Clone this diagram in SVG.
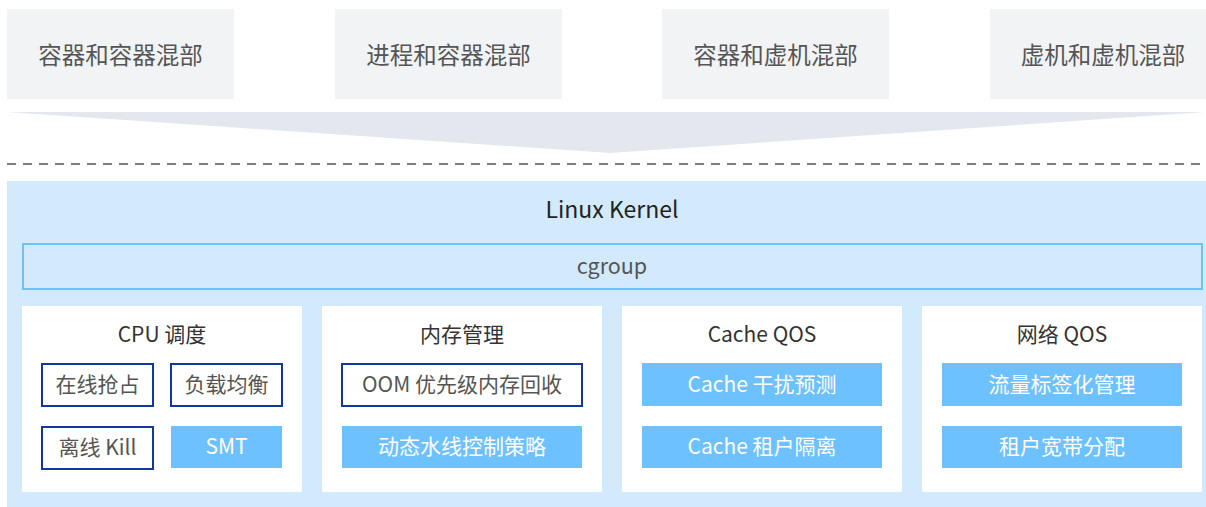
<svg xmlns="http://www.w3.org/2000/svg" width="1206" height="507" viewBox="0 0 1206 507">
<style>
text{font-family:"Noto Sans CJK SC","Noto Sans",sans-serif;text-anchor:middle;dominant-baseline:central}
.top rect{fill:#f2f3f5}
.top text{font-size:23.5px;fill:#555}
.panel{fill:#fff}
.title{font-size:21px;fill:#333}
.ob rect{fill:#fff;stroke:#12399a;stroke-width:2}
.ob text{font-size:21px;fill:#555}
.fb rect{fill:#6ec1ff}
.fb text{font-size:21px;fill:#fff}
</style>
<rect width="1206" height="507" fill="#fff"/>
<g id="top1" class="top"><rect x="7" y="9" width="227" height="90"/><text x="120.5" y="54">容器和容器混部</text></g>
<g id="top2" class="top"><rect x="335" y="9" width="227" height="90"/><text x="448.5" y="54">进程和容器混部</text></g>
<g id="top3" class="top"><rect x="662" y="9" width="227" height="90"/><text x="775.5" y="54">容器和虚机混部</text></g>
<g id="top4" class="top"><rect x="990" y="9" width="227" height="90"/><text x="1103" y="54">虚机和虚机混部</text></g>
<g id="connectors">
<polygon points="7,112 1206,112 610,153" fill="#e4e8ee"/>
<line x1="7" y1="164" x2="1206" y2="164" stroke="#555" stroke-width="1.3" stroke-dasharray="9 7"/>
</g>
<g id="kernel">
<rect x="7" y="181" width="1199" height="326" fill="#d3eafc"/>
<text x="612" y="208" style="font-size:23px;fill:#222">Linux Kernel</text>
</g>
<g id="cgroup">
<rect x="23" y="244" width="1179" height="45" fill="#d3eafc" stroke="#6ec1ff" stroke-width="2"/>
<text x="612" y="264" style="font-size:21.5px;fill:#555">cgroup</text>
</g>
<g id="cpu">
<rect class="panel" x="22" y="306" width="280" height="186"/>
<text class="title" x="162" y="333">CPU 调度</text>
<g class="ob"><rect x="42" y="364" width="111" height="42"/><text x="97.5" y="383">在线抢占</text></g>
<g class="ob"><rect x="171" y="364" width="111" height="42"/><text x="226.5" y="383">负载均衡</text></g>
<g class="ob"><rect x="42" y="427" width="111" height="42"/><text x="97.5" y="446">离线 Kill</text></g>
<g class="fb"><rect x="171" y="426" width="111" height="42"/><text x="226.5" y="445">SMT</text></g>
</g>
<g id="mem">
<rect class="panel" x="322" y="306" width="280" height="186"/>
<text class="title" x="462" y="333">内存管理</text>
<g class="ob"><rect x="342" y="364" width="240" height="42"/><text x="462" y="383">OOM 优先级内存回收</text></g>
<g class="fb"><rect x="342" y="426" width="240" height="42"/><text x="462" y="445">动态水线控制策略</text></g>
</g>
<g id="cache">
<rect class="panel" x="622" y="306" width="280" height="186"/>
<text class="title" x="762" y="333">Cache QOS</text>
<g class="fb"><rect x="642" y="363" width="240" height="43"/><text x="762" y="383">Cache 干扰预测</text></g>
<g class="fb"><rect x="642" y="426" width="240" height="42"/><text x="762" y="445">Cache 租户隔离</text></g>
</g>
<g id="net">
<rect class="panel" x="922" y="306" width="280" height="186"/>
<text class="title" x="1062" y="333">网络 QOS</text>
<g class="fb"><rect x="942" y="363" width="240" height="43"/><text x="1062" y="383">流量标签化管理</text></g>
<g class="fb"><rect x="942" y="426" width="240" height="42"/><text x="1062" y="445">租户宽带分配</text></g>
</g>
</svg>
